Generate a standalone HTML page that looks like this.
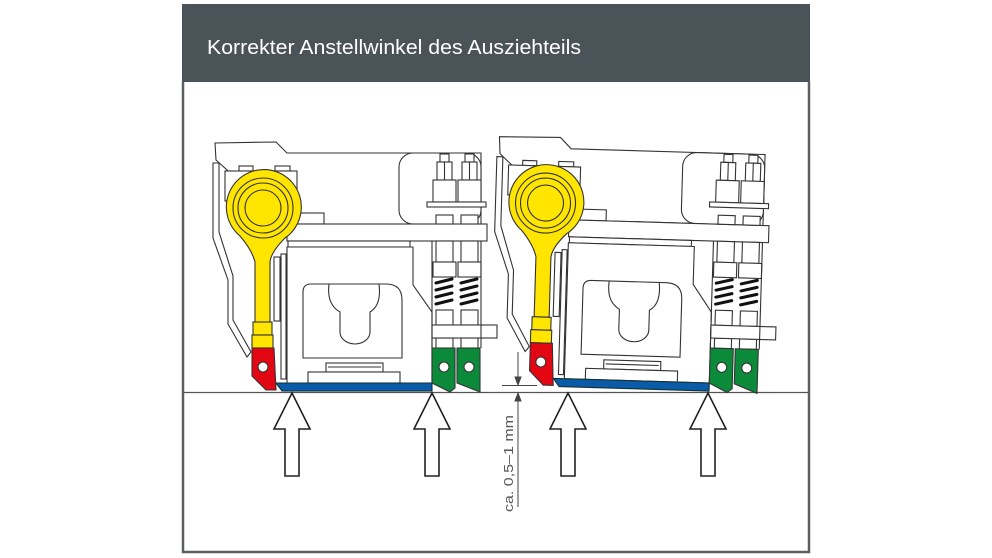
<!DOCTYPE html>
<html><head><meta charset="utf-8"><style>
html,body{margin:0;padding:0;background:#fff;}
svg{display:block}
</style></head><body>
<svg width="992" height="558" viewBox="0 0 992 558" xmlns="http://www.w3.org/2000/svg">
<rect x="0" y="0" width="992" height="558" fill="#fff"/>
<rect x="182" y="4" width="628" height="78" fill="#4a5358"/>
<text x="207" y="54" font-family="Liberation Sans, sans-serif" font-size="20" fill="#fff" textLength="374" lengthAdjust="spacingAndGlyphs">Korrekter Anstellwinkel des Ausziehteils</text>
<path d="M183,82 L183,552 L809,552 L809,82" fill="none" stroke="#5a6064" stroke-width="2.5"/>
<line x1="183" y1="392.5" x2="809" y2="392.5" stroke="#555" stroke-width="1.2"/>

<defs>
<g id="mech" stroke="#333" stroke-width="1.1" fill="#fff">
  <!-- top housing -->
  <path d="M216,160 L215,143 L276,142 L287,153 L481,153 L481,224 L287,224 Z"/>
  <rect x="399" y="153" width="82" height="71" rx="14"/>
  <!-- left panel -->
  <path d="M213,163 L219,163 L219,232 L233,276 L233,320 L251,352 L247,357 L228,324 L228,280 L213,238 Z"/>
  <!-- bracket behind yellow -->
  <rect x="239" y="166" width="14" height="5"/>
  <rect x="275" y="166" width="15" height="5"/>
  <rect x="225" y="171" width="72" height="30"/>
  <rect x="296" y="213" width="28" height="11"/>
  <!-- plate -->
  <rect x="287" y="224" width="200" height="17"/>
  <rect x="288" y="241" width="122" height="6"/>
  <!-- inner box -->
  <path d="M287,383 L287,247 L413,247 L413,285 L432,312 L432,383 Z"/>
  <rect x="274" y="257" width="6" height="64"/>
  <rect x="281" y="254" width="5" height="125"/>
  <path d="M303,358 L303,292 Q303,284 311,284 L386,284 Q402,284 402,300 L402,358 Z"/>
  <path d="M329,284 C327,300 333,308 340,312 L340,332 A15,12 0 0 0 370,332 L370,312 C377,308 381,300 379,284" fill="none"/>
  <rect x="326" y="363" width="57" height="9"/>
  <line x1="328" y1="367" x2="381" y2="367"/>
  <rect x="308" y="372" width="92" height="11"/>
  <!-- studs -->
  <g id="stud">
    <rect x="440" y="154" width="9" height="8"/>
    <rect x="437" y="162" width="15" height="18"/>
    <line x1="444.5" y1="162" x2="444.5" y2="180"/>
    <rect x="433" y="180" width="23" height="22"/>
    <rect x="436" y="215" width="17" height="9"/>
    <rect x="436" y="241" width="17" height="21"/>
    <rect x="433" y="262" width="23" height="15"/>
    <rect x="436" y="310" width="17" height="15"/>
    <rect x="436" y="338" width="17" height="10"/>
  </g>
  <use href="#stud" transform="translate(25,0)"/>
  <rect x="427" y="202" width="59" height="5"/>
  <rect x="432" y="325" width="65" height="13"/>
  <line x1="432" y1="241" x2="432" y2="348"/>
  <line x1="481" y1="241" x2="481" y2="348"/>
  <!-- springs -->
  <g stroke="#111" stroke-width="3" stroke-linecap="round">
    <line x1="436" y1="283" x2="452" y2="279"/><line x1="436" y1="290" x2="452" y2="286"/><line x1="436" y1="297" x2="452" y2="293"/><line x1="436" y1="304" x2="452" y2="300"/>
    <line x1="461" y1="283" x2="477" y2="279"/><line x1="461" y1="290" x2="477" y2="286"/><line x1="461" y1="297" x2="477" y2="293"/><line x1="461" y1="304" x2="477" y2="300"/>
  </g>
  <!-- yellow -->
  <path d="M240,236 A37.5,37.5 0 1 1 285,238 Q271,252 270,262 L270,322 L255,322 L255,262 Q252,250 240,236 Z" fill="#ffe500"/>
  <circle cx="263" cy="208" r="30" fill="none"/>
  <circle cx="263" cy="208" r="25" fill="none"/>
  <circle cx="263" cy="208" r="18" fill="none"/>
  <rect x="253" y="322" width="19" height="13" fill="#ffe500"/>
  <rect x="252" y="335" width="21" height="13" fill="#ffe500"/>
  <!-- red -->
  <path d="M252,348 L274,348 L276,390 L266,390 L252,376 Z" fill="#e30613"/>
  <circle cx="263" cy="367" r="5"/>
  <!-- blue -->
  <path d="M276,383 L432,383 L432,391 L282,391 Z" fill="#0a5ba8" stroke="#133"/>
  <!-- green -->
  <path d="M432,348 L455,348 L455,388 L450,392 L432,383 Z" fill="#0b8a3a"/>
  <path d="M457,348 L480,348 L480,392 L457,383 Z" fill="#0b8a3a"/>
  <circle cx="444" cy="367" r="5"/>
  <circle cx="469" cy="367" r="5"/>
</g>
<g id="arrow" fill="#fff" stroke="#222" stroke-width="1.6">
  <path d="M0,0 L18,36 L7,36 L7,83 L-7,83 L-7,36 L-18,36 Z"/>
</g>
</defs>

<use href="#mech"/>
<use href="#mech" transform="translate(277,0) rotate(1.7,432,392)"/>

<use href="#arrow" transform="translate(292,393)"/>
<use href="#arrow" transform="translate(432,393)"/>
<use href="#arrow" transform="translate(568,393)"/>
<use href="#arrow" transform="translate(708,393)"/>

<!-- dimension -->
<g stroke="#444" stroke-width="1" fill="#444">
  <line x1="518" y1="352" x2="518" y2="385"/>
  <path d="M515,377 L521,377 L518,385 Z"/>
  <line x1="502" y1="385.5" x2="537" y2="385.5"/>
  <line x1="518" y1="393" x2="518" y2="507"/>
  <path d="M515,401 L521,401 L518,393 Z"/>
</g>
<text transform="translate(513,512) rotate(-90)" font-family="Liberation Sans, sans-serif" font-size="13" fill="#555" textLength="97" lengthAdjust="spacingAndGlyphs">ca. 0,5–1 mm</text>
</svg>
</body></html>
